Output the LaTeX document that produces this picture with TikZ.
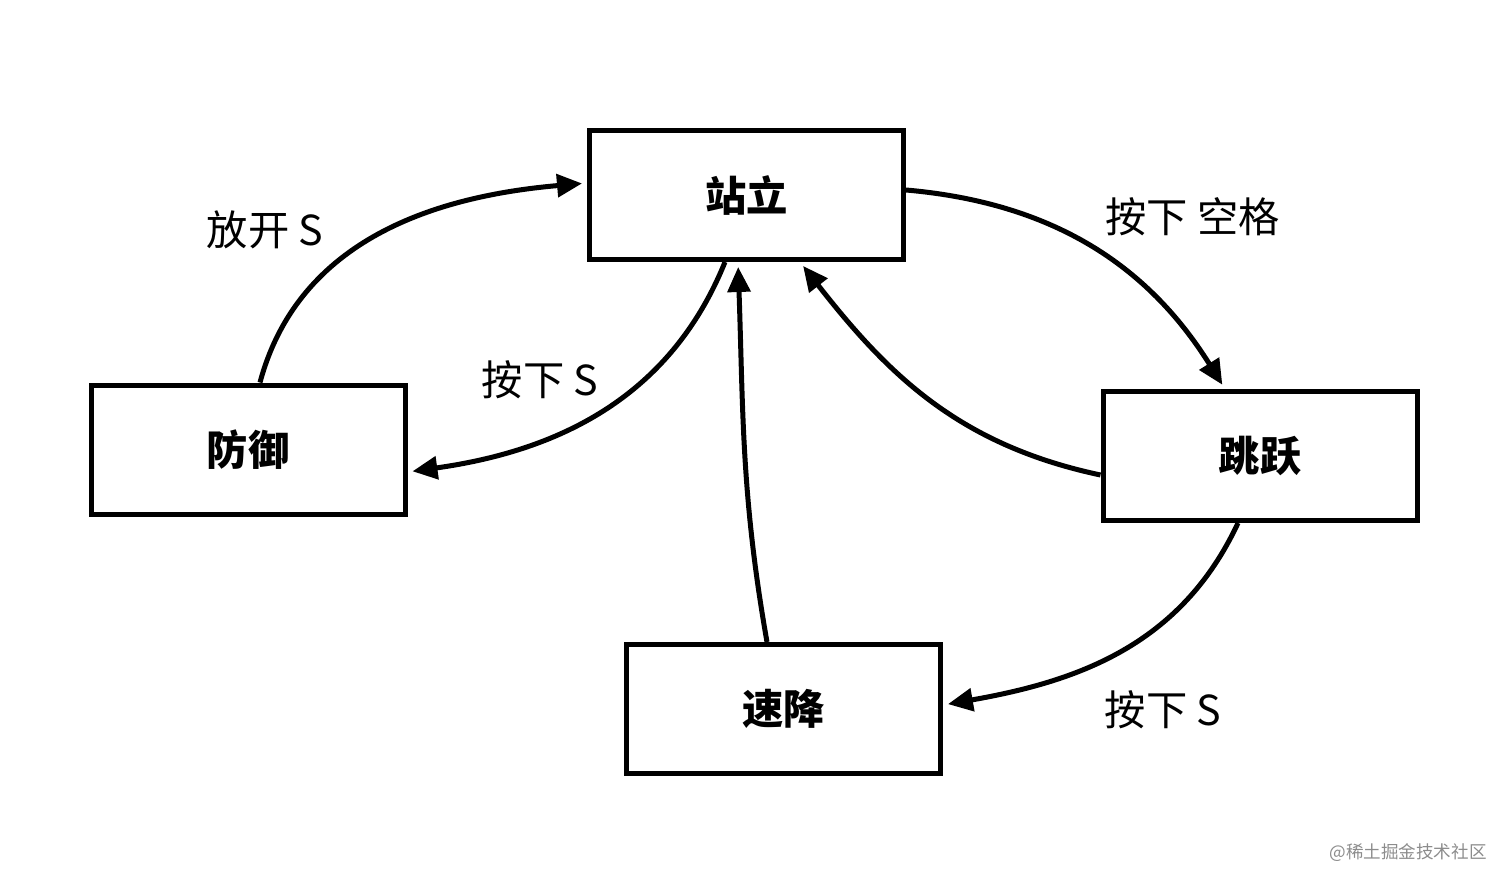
\documentclass[tikz,border=0pt]{standalone}
\usepackage{fontspec}
\setmainfont{Noto Sans CJK SC}
\usetikzlibrary{arrows.meta}
\tikzstyle{state box}=[
    draw = black,
    line width = 0.1cm,
    fill = white,
    minimum width = 6.28cm,
    minimum height = 2.58cm,
    font = \fontsize{23.5}{27}\selectfont\bfseries
]
\tikzstyle{move}=[
    line width = 0.1cm,
    -{Triangle[length=0.5cm,width=0.45cm]},
    shorten > = 0.1cm
]

\begin{document}
\begin{tikzpicture}[label/.style = {font = \fontsize{23.5}{27}\selectfont}]
        \useasboundingbox (0,0) rectangle (30.24,-17.78);
        \node[state box] (zl) at (14.93,-3.9) {站立};
        \node[state box] (dy) at (4.96,-8.99) {防御};
        \node[state box] (jy) at (25.2,-9.12) {跳跃};
        \node[state box] (sj) at (15.67,-14.18) {速降};

        \draw[move] ([xshift=0.24cm]dy.north) to[out=75, in=185] ([yshift=0.24cm]zl.west);
        \draw[move] ([xshift=-0.43cm]zl.south) to[out=-112, in=8] ([yshift=-0.45cm]dy.east);
        \draw[move] ([yshift=0.1cm]zl.east) to[out=-5, in=122] ([xshift=-0.7cm]jy.north);
        \draw[move] ([yshift=-0.38cm]jy.west) to[out=168, in=-52] ([xshift=1.07cm]zl.south);
        \draw[move] ([xshift=-0.44cm]jy.south) to[out=-115, in=10] ([yshift=0.08cm]sj.east);
        \draw[move] ([xshift=-0.33cm]sj.north) to[out=100, in=-88] ([xshift=-0.17cm]zl.south);

        \node[label] (l1) at (5.3,-4.6) {放开 S};
        \node[label] (l2) at (10.8,-7.6) {按下 S};
        \node[label] (l3) at (23.85,-4.34) {按下 空格};
        \node[label] (l4) at (23.26,-14.2) {按下 S};

        \node[font=\fontsize{10}{12}\selectfont, text=black!45] (wm) at (28.16,-17.06) {@稀土掘金技术社区};
    \end{tikzpicture}
\end{document}
